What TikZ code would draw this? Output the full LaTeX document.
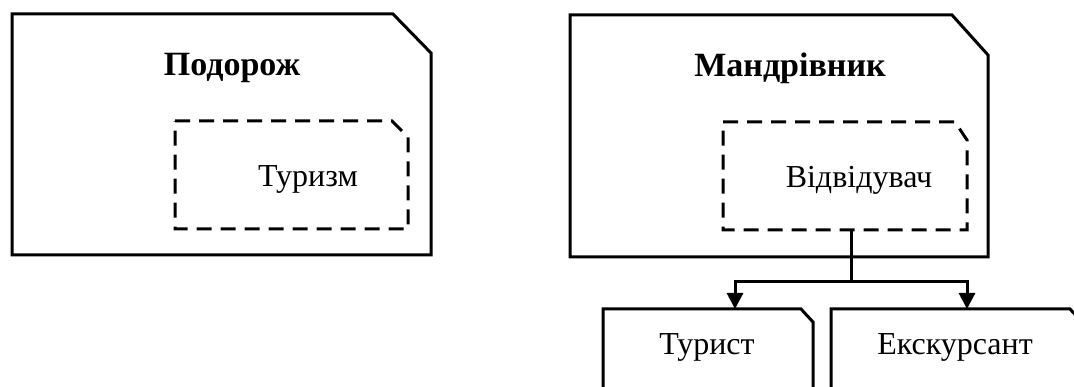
\documentclass[tikz,border=0pt]{standalone}
\usepackage{fontspec}
\setmainfont{Liberation Serif}
\usetikzlibrary{calc,arrows.meta}
\tikzset{
  solidline/.style={line width=3pt, line join=miter},
  dashline/.style={line width=3pt, dash pattern=on 15pt off 9pt},
  conn/.style={line width=3pt, -{Triangle[length=16pt,width=16pt]}},
  lbl/.style={font=\fontsize{32}{36}\selectfont, anchor=base, inner sep=0pt},
  ttl/.style={font=\bfseries\fontsize{34}{38}\selectfont, anchor=base, inner sep=0pt},
  frame/.style={inner sep=0pt, outer sep=0pt},
}
\newcommand{\chamf}[4]{% node, style, cut x, cut y
  \draw[#2] (#1.north west) -- ($(#1.north east)+(-#3,0)$) -- ($(#1.north east)+(0,#4)$) -- (#1.south east) -- (#1.south west) -- cycle;}
\begin{document}
\begin{tikzpicture}[x=1pt,y=-1pt]
\useasboundingbox (0,0) rectangle (1074,387);
\clip (0,0) rectangle (1074,387);
% frames (invisible nodes, outlines drawn by \chamf)
\node[frame, minimum width=419pt, minimum height=241pt] (podorozh) at (221.5,134.5) {};
\node[frame, minimum width=233pt, minimum height=108pt] (turyzm) at (291.5,175) {};
\node[frame, minimum width=418pt, minimum height=242pt] (mandr) at (779,136) {};
\node[frame, minimum width=244pt, minimum height=108pt] (vidv) at (845,176) {};
\node[frame, minimum width=210pt, minimum height=111pt] (turyst) at (708,364.5) {};
\node[frame, minimum width=251pt, minimum height=111pt] (ekskurs) at (956.5,364.5) {};
\chamf{podorozh}{solidline}{38}{39}
\chamf{turyzm}{dashline}{16}{16}
\chamf{mandr}{solidline}{36}{40}
\chamf{vidv}{dashline}{12}{18}
\chamf{turyst}{solidline}{12}{13}
\chamf{ekskurs}{solidline}{12}{13}
% texts
\node[ttl] (t1) at (232,76) {Подорож};
\node[lbl] (t2) at (308,187) {Туризм};
\node[ttl] (t3) at (790,77) {Мандрівник};
\node[lbl] (t4) at (859,188) {Відвідувач};
\node[lbl] (t5) at (707,355) {Турист};
\node[lbl] (t6) at (955,355) {Екскурсант};
% connectors
\coordinate (src) at (851,230);
\coordinate (junc) at (851,282);
\coordinate (inT) at (735,309);
\coordinate (inE) at (967,309);
\draw[line width=3pt] (src) -- (junc);
\draw[conn] (junc) -| (inT);
\draw[conn] (junc) -| (inE);
\end{tikzpicture}
\end{document}
